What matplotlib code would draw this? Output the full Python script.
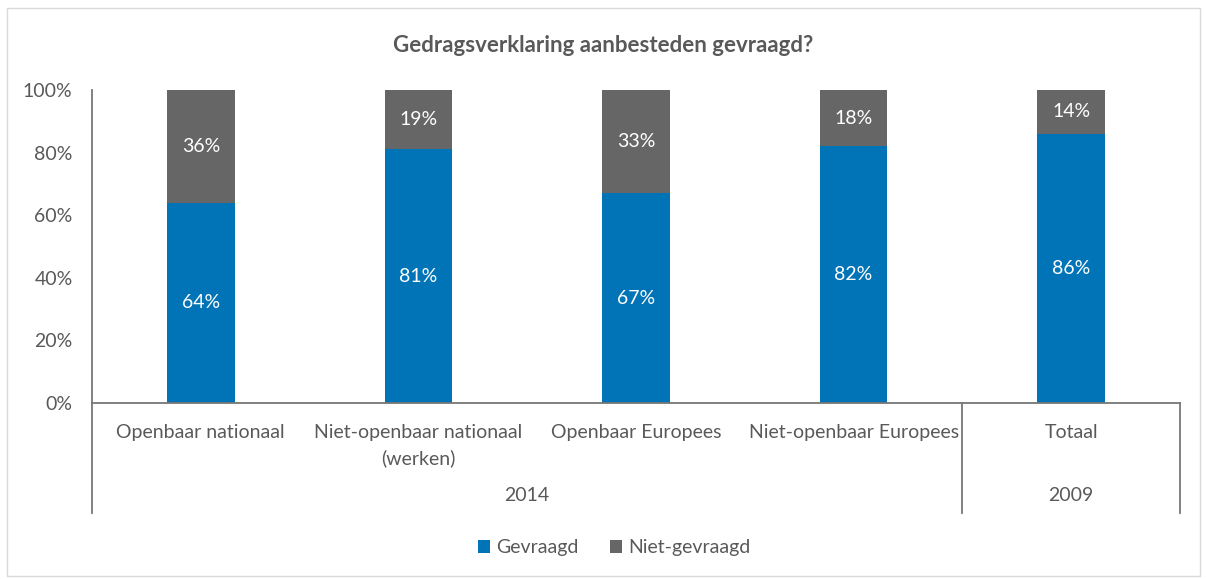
import matplotlib.pyplot as plt
import numpy as np
from matplotlib.patches import Rectangle
from matplotlib.transforms import blended_transform_factory

# Data
categories = ["Openbaar nationaal", "Niet-openbaar nationaal\n(werken)",
              "Openbaar Europees", "Niet-openbaar Europees", "Totaal"]
groups = ["2014", "2009"]
group_spans = [(0, 3), (4, 4)]
gevraagd = [64, 81, 67, 82, 86]
niet_gevraagd = [36, 19, 33, 18, 14]

blue = "#0173B7"
grey = "#666666"
text_col = "#595959"
line_col = "#767676"

plt.rcParams['font.family'] = ['Lato', 'DejaVu Sans']

fig = plt.figure(figsize=(12.06, 5.79), dpi=100)
W, H = 1206, 579
# light border round the chart
fig.patches.append(Rectangle((7 / W, 3 / H), 1193 / W, 568 / H, transform=fig.transFigure,
                             fill=False, edgecolor="#d9d9d9", linewidth=1))

ax = fig.add_axes([92 / W, (H - 403) / H, 1088 / W, 313 / H])
x = np.arange(len(categories))
w = 0.31
b1 = ax.bar(x, gevraagd, w, color=blue, label="Gevraagd")
b2 = ax.bar(x, niet_gevraagd, w, bottom=gevraagd, color=grey, label="Niet-gevraagd")

fs = 14
for xi, g, n in zip(x, gevraagd, niet_gevraagd):
    ax.text(xi, g / 2, f"{g}%", ha="center", va="center", color="white", fontsize=fs)
    ax.text(xi, g + n / 2, f"{n}%", ha="center", va="center", color="white", fontsize=fs)

ax.set_xlim(-0.5, len(categories) - 0.5)
ax.set_ylim(0, 100)
ax.set_yticks(range(0, 101, 20))
ax.set_yticklabels([f"{v}%" for v in range(0, 101, 20)], fontsize=fs, color=text_col)
ax.tick_params(axis="y", length=0, pad=14)
ax.set_xticks([])
for s in ["top", "right"]:
    ax.spines[s].set_visible(False)
ax.spines["left"].set_visible(False)
ax.spines["bottom"].set_color(line_col)
ax.spines["bottom"].set_linewidth(1.3)

# multi-level category axis
tr = blended_transform_factory(ax.transData, ax.transAxes)
bottom_y = -0.351
for xv in [-0.5, 3.5, 4.5]:
    y0 = 1.0 if xv == -0.5 else 0.0
    ax.plot([xv, xv], [y0, bottom_y], transform=tr, color=line_col, lw=1.3, clip_on=False)
for xi, c in zip(x, categories):
    ax.text(xi, -0.066, c, transform=tr, ha="center", va="top", fontsize=fs,
            color=text_col, linespacing=1.6)
for (a, b), g in zip(group_spans, groups):
    ax.text((a + b) / 2, -0.297, g, transform=tr, ha="center", va="center",
            fontsize=fs, color=text_col)

fig.text(0.5, (H - 45) / H, "Gedragsverklaring aanbesteden gevraagd?", ha="center",
         va="center", fontsize=16, fontweight="bold", color=text_col)

fig.legend(handles=[b1, b2], loc="center", bbox_to_anchor=(614 / W, (H - 548) / H),
           ncol=2, frameon=False, fontsize=fs, labelcolor=text_col,
           handlelength=0.65, handleheight=0.65, handletextpad=0.3, columnspacing=1.6)

fig.savefig("out.png", dpi=100)
